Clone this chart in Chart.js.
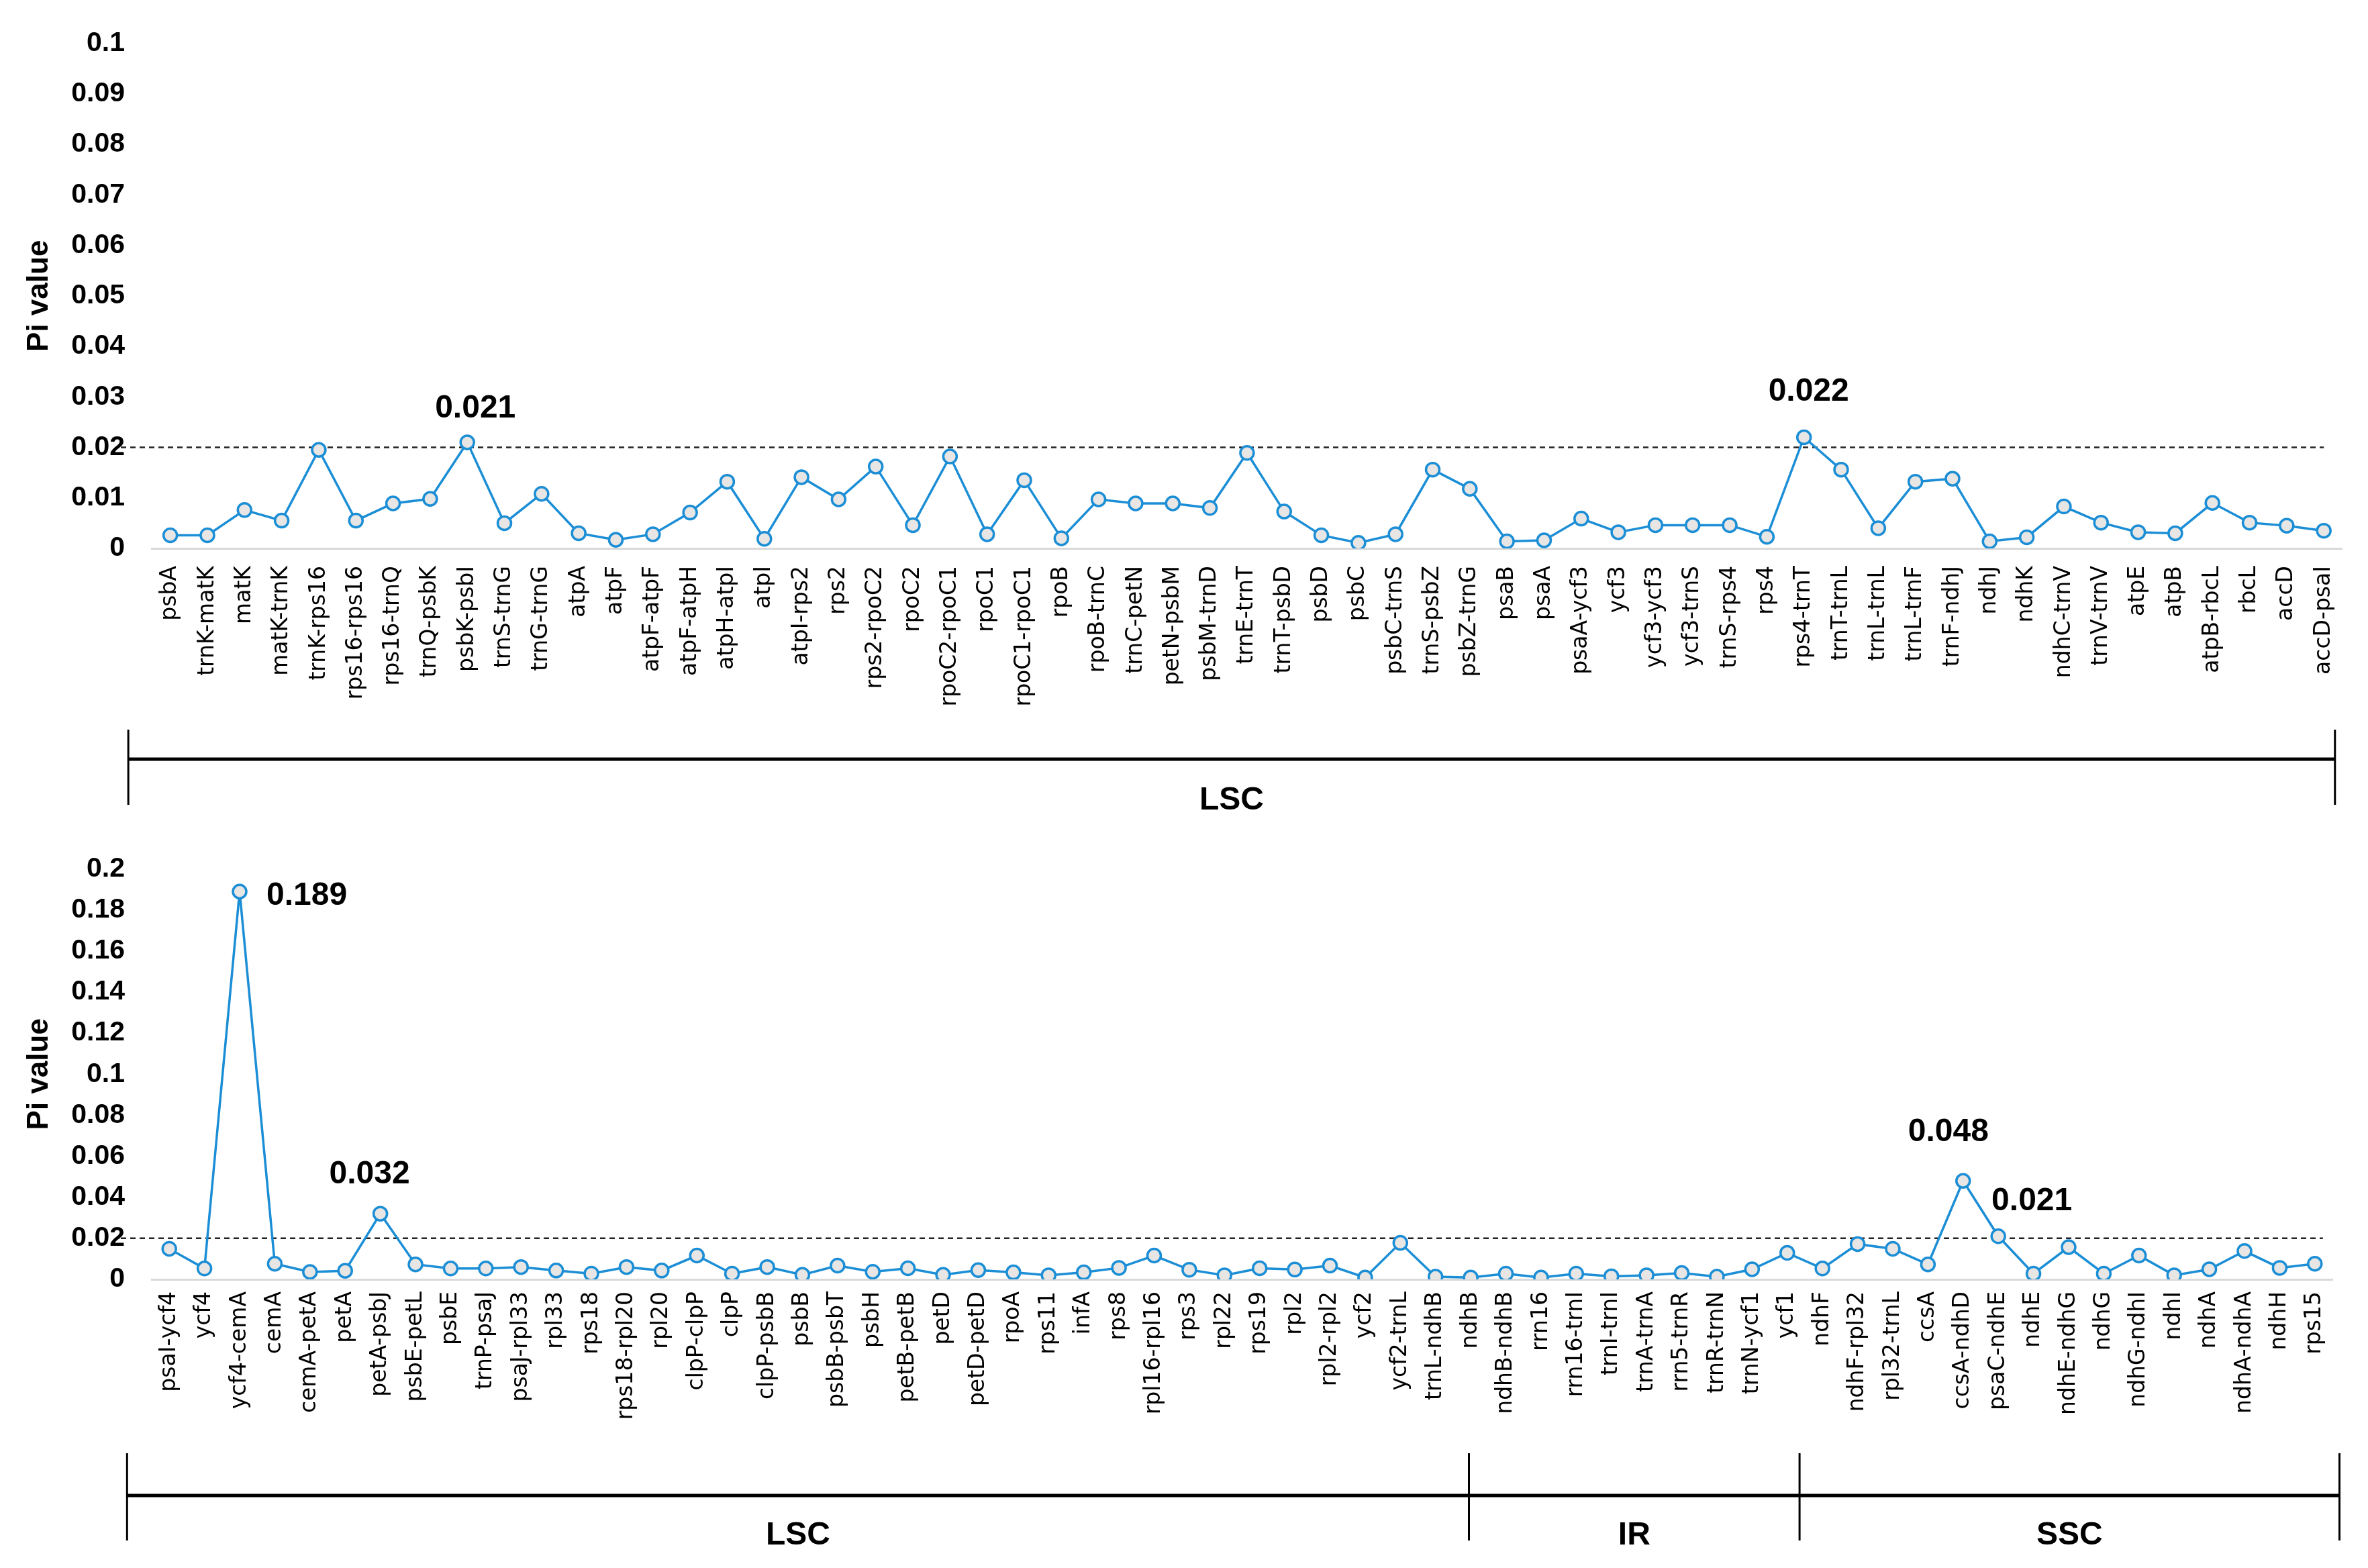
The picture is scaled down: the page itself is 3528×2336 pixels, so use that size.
<!DOCTYPE html>
<html>
<head>
<meta charset="utf-8">
<script src="https://cdn.jsdelivr.net/npm/chart.js@4.4.0/dist/chart.umd.min.js"></script>
<style>
  html, body { margin: 0; padding: 0; background: #fff; }
  #wrap { position: relative; width: 3528px; height: 2336px; }
  .panel { position: absolute; left: 0; width: 3528px; }
  #topBox { top: 0; height: 1230px; }
  #bottomBox { top: 1230px; height: 1106px; }
</style>
</head>
<body>
<div id="wrap">
  <div class="panel" id="topBox"><canvas id="topChart" width="3528" height="1230"></canvas></div>
  <div class="panel" id="bottomBox"><canvas id="bottomChart" width="3528" height="1106"></canvas></div>
</div>
<script>
// ---------- data: upper panel (LSC) ----------
const topLabels = [
  'psbA', 'trnK-matK', 'matK', 'matK-trnK', 'trnK-rps16', 'rps16-rps16', 'rps16-trnQ', 'trnQ-psbK',
  'psbK-psbI', 'trnS-trnG', 'trnG-trnG', 'atpA', 'atpF', 'atpF-atpF', 'atpF-atpH', 'atpH-atpI',
  'atpI', 'atpI-rps2', 'rps2', 'rps2-rpoC2', 'rpoC2', 'rpoC2-rpoC1', 'rpoC1', 'rpoC1-rpoC1',
  'rpoB', 'rpoB-trnC', 'trnC-petN', 'petN-psbM', 'psbM-trnD', 'trnE-trnT', 'trnT-psbD', 'psbD',
  'psbC', 'psbC-trnS', 'trnS-psbZ', 'psbZ-trnG', 'psaB', 'psaA', 'psaA-ycf3', 'ycf3',
  'ycf3-ycf3', 'ycf3-trnS', 'trnS-rps4', 'rps4', 'rps4-trnT', 'trnT-trnL', 'trnL-trnL', 'trnL-trnF',
  'trnF-ndhJ', 'ndhJ', 'ndhK', 'ndhC-trnV', 'trnV-trnV', 'atpE', 'atpB', 'atpB-rbcL',
  'rbcL', 'accD', 'accD-psaI'
];
const topValues = [
  0.0026, 0.0026, 0.0076, 0.0055, 0.0195, 0.0055, 0.0089, 0.0098,
  0.021, 0.005, 0.0108, 0.003, 0.0017, 0.0028, 0.0071, 0.0132,
  0.0019, 0.0141, 0.0097, 0.0162, 0.0046, 0.0182, 0.0028, 0.0135,
  0.002, 0.0097, 0.0089, 0.0089, 0.008, 0.0189, 0.0073, 0.0026,
  0.0011, 0.0028, 0.0156, 0.0118, 0.0014, 0.0016, 0.0059, 0.0032,
  0.0046, 0.0046, 0.0046, 0.0023, 0.022, 0.0156, 0.004, 0.0132,
  0.0138, 0.0014, 0.0022, 0.0083, 0.0051, 0.0032, 0.003, 0.009,
  0.0051, 0.0045, 0.0035
];
const topTicks = [0, 0.01, 0.02, 0.03, 0.04, 0.05, 0.06, 0.07, 0.08, 0.09, 0.1];
const topRegions = ['LSC'];
const topRegionEdges = [-1.13, 58.3];   // in category units
const topCallouts = [
  { label: 'psbK-psbI', text: '0.021', dx: 12, dy: -50, align: 'center' },
  { label: 'rps4-trnT', text: '0.022', dx: 7, dy: -68, align: 'center' }
];

// ---------- data: lower panel (LSC / IR / SSC) ----------
const bottomLabels = [
  'psaI-ycf4', 'ycf4', 'ycf4-cemA', 'cemA', 'cemA-petA', 'petA', 'petA-psbJ', 'psbE-petL',
  'psbE', 'trnP-psaJ', 'psaJ-rpl33', 'rpl33', 'rps18', 'rps18-rpl20', 'rpl20', 'clpP-clpP',
  'clpP', 'clpP-psbB', 'psbB', 'psbB-psbT', 'psbH', 'petB-petB', 'petD', 'petD-petD',
  'rpoA', 'rps11', 'infA', 'rps8', 'rpl16-rpl16', 'rps3', 'rpl22', 'rps19',
  'rpl2', 'rpl2-rpl2', 'ycf2', 'ycf2-trnL', 'trnL-ndhB', 'ndhB', 'ndhB-ndhB', 'rrn16',
  'rrn16-trnI', 'trnI-trnI', 'trnA-trnA', 'rrn5-trnR', 'trnR-trnN', 'trnN-ycf1', 'ycf1', 'ndhF',
  'ndhF-rpl32', 'rpl32-trnL', 'ccsA', 'ccsA-ndhD', 'psaC-ndhE', 'ndhE', 'ndhE-ndhG', 'ndhG',
  'ndhG-ndhI', 'ndhI', 'ndhA', 'ndhA-ndhA', 'ndhH', 'rps15'
];
const bottomValues = [
  0.0149, 0.0053, 0.189, 0.0076, 0.0036, 0.0042, 0.032, 0.0073,
  0.0053, 0.0053, 0.006, 0.0043, 0.0028, 0.006, 0.0043, 0.0116,
  0.0028, 0.006, 0.0022, 0.0067, 0.0037, 0.0054, 0.0022, 0.0045,
  0.0034, 0.002, 0.0034, 0.0056, 0.0116, 0.0047, 0.002, 0.0054,
  0.0048, 0.0067, 0.0009, 0.0178, 0.0013, 0.0009, 0.0028, 0.0009,
  0.0028, 0.0015, 0.002, 0.0031, 0.0013, 0.0049, 0.0129, 0.0053,
  0.0172, 0.0149, 0.0073, 0.048, 0.021, 0.0028, 0.0157, 0.0028,
  0.0116, 0.002, 0.0049, 0.0138, 0.0056, 0.0076
];
const bottomTicks = [0, 0.02, 0.04, 0.06, 0.08, 0.1, 0.12, 0.14, 0.16, 0.18, 0.2];
const bottomRegions = ['LSC', 'IR', 'SSC'];
const bottomRegionEdges = [-1.2, 36.95, 46.35, 61.7];
const bottomCallouts = [
  { label: 'ycf4-cemA', text: '0.189', dx: 40, dy: 7, align: 'left' },
  { label: 'petA-psbJ', text: '0.032', dx: -16, dy: -58, align: 'center' },
  { label: 'ccsA-ndhD', text: '0.048', dx: -22, dy: -72, align: 'center' },
  { label: 'psaC-ndhE', text: '0.021', dx: 50, dy: -52, align: 'center' }
];

const threshold = 0.02;

const BLUE = '#1b8ed6';
const MARKER_FILL = '#e8e6e4';
const FONT = '"Liberation Sans", Arial, sans-serif';

// dashed threshold, value callouts and region brackets
const overlayPlugin = {
    id: 'overlay',
    beforeDatasetsDraw(chart, args, opts) {
        const { ctx, chartArea } = chart;
        const y = chart.scales.y.getPixelForValue(threshold);
        const meta = chart.getDatasetMeta(0);
        const lastX = meta.data[meta.data.length - 1].x;
        ctx.save();
        ctx.strokeStyle = '#222';
        ctx.lineWidth = 2.5;
        ctx.setLineDash([8, 6]);
        ctx.beginPath();
        ctx.moveTo(chartArea.left - 46, y);
        ctx.lineTo(lastX + opts.dashExtra, y);
        ctx.stroke();
        ctx.restore();
    },
    afterDraw(chart, args, opts) {
        const { ctx, chartArea } = chart;
        const xScale = chart.scales.x;
        const meta = chart.getDatasetMeta(0);
        const labels = chart.data.labels;

        ctx.save();
        // callouts
        ctx.fillStyle = '#000';
        ctx.font = 'bold 48px ' + FONT;
        ctx.textBaseline = 'middle';
        opts.callouts.forEach(c => {
            const pt = meta.data[labels.indexOf(c.label)];
            ctx.textAlign = c.align;
            ctx.fillText(c.text, pt.x + c.dx, pt.y + c.dy);
        });

        // region brackets
        const base = chartArea.bottom;
        const xs = opts.edges.map(e => xScale.getPixelForValue(e));
        ctx.strokeStyle = '#000';
        ctx.lineWidth = 5;
        ctx.beginPath();
        ctx.moveTo(xs[0], base + opts.lineY);
        ctx.lineTo(xs[xs.length - 1], base + opts.lineY);
        ctx.stroke();
        ctx.lineWidth = 3;
        xs.forEach(x => {
            ctx.beginPath();
            ctx.moveTo(x, base + opts.tickTop);
            ctx.lineTo(x, base + opts.tickBottom);
            ctx.stroke();
        });
        ctx.font = 'bold 48px ' + FONT;
        ctx.textAlign = 'center';
        opts.regions.forEach((name, i) => {
            ctx.fillText(name, (xs[i] + xs[i + 1]) / 2, base + opts.textY);
        });
        ctx.restore();
    }
};

function makeChart(canvasId, labels, values, ticks, yMax, cfg) {
    const ctx = document.getElementById(canvasId).getContext('2d');
    return new Chart(ctx, {
        type: 'line',
        data: {
            labels: labels,
            datasets: [{
                label: 'Pi',
                data: values,
                borderColor: BLUE,
                borderWidth: 3.5,
                tension: 0,
                pointRadius: 10,
                pointBorderWidth: 3.5,
                pointBackgroundColor: MARKER_FILL,
                pointBorderColor: BLUE
            }]
        },
        options: {
            responsive: false,
            animation: false,
            devicePixelRatio: 1,
            layout: { padding: { top: cfg.padTop, right: cfg.padRight, bottom: cfg.padBottom, left: 0 } },
            plugins: {
                legend: { display: false },
                tooltip: { enabled: false },
                overlay: cfg.overlay
            },
            scales: {
                x: {
                    type: 'category',
                    offset: true,
                    afterFit: s => { s.height = cfg.xHeight; },
                    grid: { display: false, drawTicks: false },
                    border: { display: true, color: '#d9d9d9', width: 3 },
                    ticks: {
                        autoSkip: false,
                        minRotation: 90,
                        maxRotation: 90,
                        padding: cfg.labelGap,
                        color: '#000',
                        font: { family: '"DejaVu Sans", Verdana, sans-serif', size: 33 }
                    }
                },
                y: {
                    min: 0,
                    max: yMax,
                    afterFit: s => { s.width = 226; },
                    afterBuildTicks: s => { s.ticks = ticks.map(v => ({ value: v })); },
                    grid: { display: false, drawTicks: false },
                    border: { display: false },
                    ticks: {
                        padding: 40,
                        color: '#000',
                        font: { family: FONT, size: 41, weight: 'bold' },
                        callback: v => String(+v.toFixed(3))
                    },
                    title: {
                        display: true,
                        text: 'Pi value',
                        color: '#000',
                        padding: { top: 32, bottom: 0 },
                        font: { family: FONT, size: 44, weight: 'bold' }
                    }
                }
            }
        },
        plugins: [overlayPlugin]
    });
}

makeChart('topChart', topLabels, topValues, topTicks, 0.1, {
    padTop: 52, padRight: 28, padBottom: 13, xHeight: 400, labelGap: 26,
    overlay: {
        callouts: topCallouts, regions: topRegions, edges: topRegionEdges, dashExtra: 0,
        lineY: 314, tickTop: 270, tickBottom: 382, textY: 376
    }
});

makeChart('bottomChart', bottomLabels, bottomValues, bottomTicks, 0.2, {
    padTop: 46, padRight: 53, padBottom: 10, xHeight: 420, labelGap: 18,
    overlay: {
        callouts: bottomCallouts, regions: bottomRegions, edges: bottomRegionEdges, dashExtra: 12,
        lineY: 322, tickTop: 259, tickBottom: 389, textY: 382
    }
});
</script>
</body>
</html>
